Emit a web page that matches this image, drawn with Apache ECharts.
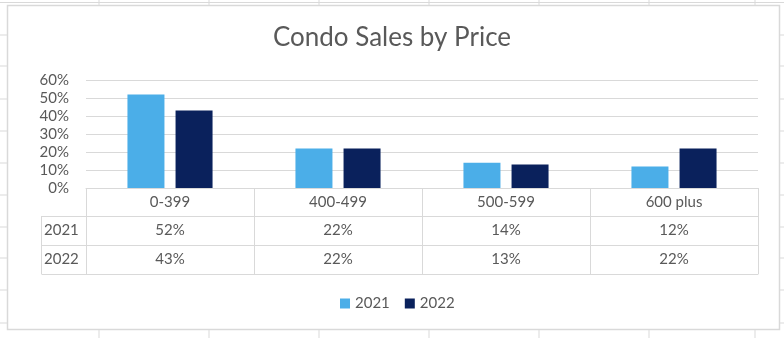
<!DOCTYPE html>
<html><head><meta charset="utf-8">
<script src="https://cdn.jsdelivr.net/npm/echarts@6/dist/echarts.min.js"></script>
<style>html,body{margin:0;padding:0;background:#fff;}#c{width:784px;height:338px;}</style>
</head><body><div id="c"></div>
<script>
const categories = ['0-399', '400-499', '500-599', '600 plus'];
const seriesNames = ['2021', '2022'];
const values2021 = [0.52, 0.22, 0.14, 0.12];
const values2022 = [0.43, 0.22, 0.13, 0.22];
const yTicks = [0, 0.1, 0.2, 0.3, 0.4, 0.5, 0.6];

const FONT = 'Lato';
const TXT = '#595959';
const LINE = '#d9d9d9';
const C1 = '#4BAEE8';
const C2 = '#0A215C';
const pct = v => Math.round(v * 100) + '%';

const chart = echarts.init(document.getElementById('c'), null, {renderer: 'canvas'});
const gridLeft = 86, gridRight = 26, gridTop = 80, gridBottom = 150;
const rowH = [28, 29, 29];
const axisY = 338 - gridBottom;
const row1 = axisY + rowH[0], row2 = row1 + rowH[1], row3 = row2 + rowH[2];

function tableAxis(data, offset, showLabel) {
  return {
    type: 'category', data: data, position: 'bottom', offset: offset,
    axisLine: {show: true, lineStyle: {color: LINE, width: 1}},
    axisTick: {show: false},
    axisLabel: {show: showLabel, interval: 0, margin: 7, color: TXT, fontFamily: FONT, fontSize: 15},
    splitLine: {show: false}
  };
}

// sheet background decoration
const deco = [];
const vx = [99, 209, 319, 429, 539, 649, 755];
vx.forEach(x => {
  deco.push({type: 'line', shape: {x1: x, y1: 0, x2: x, y2: 5}, style: {stroke: LINE, lineWidth: 1}, silent: true});
  deco.push({type: 'line', shape: {x1: x, y1: 330, x2: x, y2: 338}, style: {stroke: LINE, lineWidth: 1}, silent: true});
});
const hy = [35, 66, 99, 131, 163, 195, 227, 258, 290, 323];
hy.forEach(y => {
  deco.push({type: 'line', shape: {x1: 0, y1: y, x2: 7, y2: y}, style: {stroke: LINE, lineWidth: 1}, silent: true});
  deco.push({type: 'line', shape: {x1: 780, y1: y, x2: 784, y2: y}, style: {stroke: LINE, lineWidth: 1}, silent: true});
});
deco.push({type: 'line', shape: {x1: 0, y1: 2.5, x2: 784, y2: 2.5}, style: {stroke: LINE, lineWidth: 1}, silent: true});
deco.push({type: 'rect', shape: {x: 7.5, y: 5.5, width: 772, height: 324}, style: {fill: null, stroke: LINE, lineWidth: 1.5}, silent: true});
// left header column of the data table
const colX = 41.5;
deco.push({type: 'line', shape: {x1: colX, y1: row1, x2: colX, y2: row3}, style: {stroke: LINE, lineWidth: 1}, silent: true});
[row1, row2, row3].forEach(y => deco.push({type: 'line', shape: {x1: colX, y1: y + 0.5, x2: gridLeft, y2: y + 0.5}, style: {stroke: LINE, lineWidth: 1}, silent: true}));
seriesNames.forEach((n, i) => deco.push({
  type: 'text', left: 44, top: [row1, row2][i] + 7,
  style: {text: n, fill: TXT, font: '15px ' + FONT}, silent: true
}));

chart.setOption({
  animation: false,
  backgroundColor: '#fff',
  title: {
    text: 'Condo Sales by Price', left: 'center', top: 20,
    textStyle: {color: TXT, fontFamily: FONT, fontSize: 26, fontWeight: 'normal'}
  },
  legend: {
    data: seriesNames, bottom: 22, left: 335, itemWidth: 10, itemHeight: 10, itemGap: 15,
    icon: 'rect', textStyle: {color: TXT, fontFamily: FONT, fontSize: 15, padding: [0, 0, 0, 0]}
  },
  grid: {left: gridLeft, right: gridRight, top: gridTop, bottom: gridBottom, containLabel: false},
  xAxis: [
    {
      type: 'category', data: categories, position: 'bottom',
      axisLine: {show: true, lineStyle: {color: LINE, width: 1}},
      axisTick: {show: true, alignWithLabel: false, interval: 0, length: row3 - axisY, lineStyle: {color: LINE, width: 1}},
      axisLabel: {interval: 0, margin: 7, color: TXT, fontFamily: FONT, fontSize: 15}
    },
    tableAxis(values2021.map(pct), rowH[0], true),
    tableAxis(values2022.map(pct), rowH[0] + rowH[1], true),
    tableAxis(categories, rowH[0] + rowH[1] + rowH[2], false)
  ],
  yAxis: {
    type: 'value', min: yTicks[0], max: yTicks[yTicks.length - 1], interval: 0.1,
    axisLine: {show: false}, axisTick: {show: false},
    axisLabel: {formatter: pct, color: TXT, fontFamily: FONT, fontSize: 15, margin: 17},
    splitLine: {lineStyle: {color: LINE, width: 1}}
  },
  series: [
    {name: seriesNames[0], type: 'bar', data: values2021, itemStyle: {color: C1}, barWidth: 37, barGap: '30%', xAxisIndex: 0},
    {name: seriesNames[1], type: 'bar', data: values2022, itemStyle: {color: C2}, barWidth: 37, barGap: '30%', xAxisIndex: 0}
  ],
  graphic: deco
});
</script></body></html>
